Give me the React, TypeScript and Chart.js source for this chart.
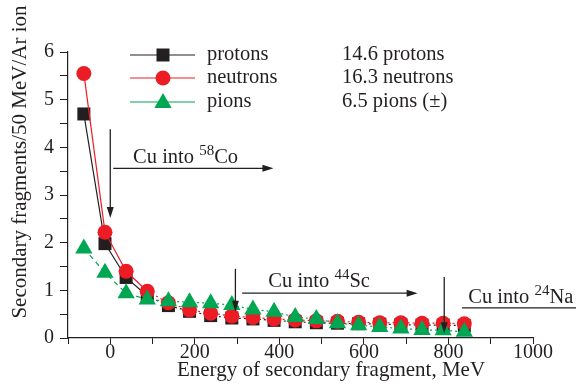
import React, { useEffect, useRef } from "react";
import { Chart, registerables } from "chart.js";

Chart.register(...registerables);

const ENERGY = [-62.5, -12.5, 37.5, 87.5, 137.5, 187.5, 237.5, 287.5, 337.5, 387.5, 437.5, 487.5, 537.5, 587.5, 637.5, 687.5, 737.5, 787.5, 837.5];
const PROTONS = [4.7, 1.98, 1.27, 0.88, 0.68, 0.56, 0.47, 0.42, 0.4, 0.37, 0.34, 0.32, 0.31, 0.3, 0.29, 0.28, 0.27, 0.27, 0.26];
const NEUTRONS = [5.55, 2.22, 1.4, 0.98, 0.74, 0.59, 0.52, 0.46, 0.43, 0.4, 0.38, 0.36, 0.35, 0.33, 0.32, 0.32, 0.31, 0.31, 0.3];
const PIONS = [1.88, 1.37, 0.94, 0.81, 0.77, 0.75, 0.73, 0.69, 0.6, 0.55, 0.44, 0.4, 0.31, 0.27, 0.23, 0.2, 0.17, 0.16, 0.13];

const SERIES_NAMES = ["protons", "neutrons", "pions"];
const SERIES_TOTALS = ["14.6 protons", "16.3 neutrons", "6.5 pions (\u00b1)"];

const X_TITLE = "Energy of secondary fragment, MeV";
const Y_TITLE = "Secondary fragments/50 MeV/Ar ion";

// annotations (data coordinates)
const V_ARROWS = [
  { x: 0, y0: 4.38, y1: 2.52 },
  { x: 296, y0: 1.45, y1: 0.55 },
  { x: 790, y0: 1.28, y1: 0.1 },
];
const H_ARROWS = [
  { y: 3.56, x0: 7, x1: 386, head: true },
  { y: 0.94, x0: 312, x1: 727, head: true },
  { y: 0.63, x0: 832, x1: 1120, head: false },
];
const LABELS = [
  { x: 54, y: 3.67, iso: "58", el: "Co" },
  { x: 374, y: 1.07, iso: "44", el: "Sc" },
  { x: 847, y: 0.73, iso: "24", el: "Na" },
];

const FONT = '"Liberation Serif", "Times New Roman", Times, serif';
const BLACK = "#231f20";
const RED = "#ec1c24";
const GREEN = "#00a651";

function drawMarker(ctx: CanvasRenderingContext2D, kind: string, x: number, y: number, color: string) {
  ctx.save();
  ctx.fillStyle = color;
  ctx.beginPath();
  if (kind === "rect") {
    ctx.rect(x - 6.5, y - 6.5, 13, 13);
  } else if (kind === "circle") {
    ctx.arc(x, y, 7.5, 0, Math.PI * 2);
  } else {
    const r = 10;
    ctx.moveTo(x, y - r);
    ctx.lineTo(x + r * 0.866, y + r * 0.5);
    ctx.lineTo(x - r * 0.866, y + r * 0.5);
    ctx.closePath();
  }
  ctx.fill();
  ctx.restore();
}

const overlay = {
  id: "overlay",
  afterDraw(chart: any) {
    const ctx: CanvasRenderingContext2D = chart.ctx;
    const xs = chart.scales.x;
    const ys = chart.scales.y;
    ctx.save();
    // legend
    const colors = [BLACK, RED, GREEN];
    const kinds = ["rect", "circle", "triangle"];
    const rowsY = [55, 78, 102];
    ctx.font = `20.5px ${FONT}`;
    ctx.textBaseline = "middle";
    for (let i = 0; i < 3; i++) {
      const y = rowsY[i];
      ctx.strokeStyle = colors[i];
      ctx.lineWidth = 1.2;
      ctx.beginPath();
      ctx.moveTo(130, y);
      ctx.lineTo(195, y);
      ctx.stroke();
      drawMarker(ctx, kinds[i], 163, y + (i === 2 ? 1 : 0), colors[i]);
      ctx.fillStyle = BLACK;
      ctx.textAlign = "left";
      ctx.fillText(SERIES_NAMES[i], 207, y);
      ctx.fillText(SERIES_TOTALS[i], 342, y);
    }
    // arrows
    ctx.strokeStyle = BLACK;
    ctx.fillStyle = BLACK;
    ctx.lineWidth = 1.3;
    for (const a of V_ARROWS) {
      const px = xs.getPixelForValue(a.x);
      const p0 = ys.getPixelForValue(a.y0);
      const p1 = ys.getPixelForValue(a.y1);
      ctx.beginPath();
      ctx.moveTo(px, p0);
      ctx.lineTo(px, p1 - 8);
      ctx.stroke();
      ctx.beginPath();
      ctx.moveTo(px, p1);
      ctx.lineTo(px - 3.5, p1 - 11);
      ctx.lineTo(px + 3.5, p1 - 11);
      ctx.closePath();
      ctx.fill();
    }
    for (const a of H_ARROWS) {
      const py = ys.getPixelForValue(a.y);
      const p0 = xs.getPixelForValue(a.x0);
      const p1 = xs.getPixelForValue(a.x1);
      ctx.beginPath();
      ctx.moveTo(p0, py);
      ctx.lineTo(a.head ? p1 - 8 : p1, py);
      ctx.stroke();
      if (a.head) {
        ctx.beginPath();
        ctx.moveTo(p1, py);
        ctx.lineTo(p1 - 11, py - 3.5);
        ctx.lineTo(p1 - 11, py + 3.5);
        ctx.closePath();
        ctx.fill();
      }
    }
    // labels
    ctx.textBaseline = "alphabetic";
    ctx.textAlign = "left";
    for (const l of LABELS) {
      let px = xs.getPixelForValue(l.x);
      const py = ys.getPixelForValue(l.y);
      ctx.font = `20.5px ${FONT}`;
      const t1 = "Cu into ";
      ctx.fillText(t1, px, py);
      px += ctx.measureText(t1).width;
      ctx.font = `15px ${FONT}`;
      ctx.fillText(l.iso, px, py - 8);
      px += ctx.measureText(l.iso).width;
      ctx.font = `20.5px ${FONT}`;
      ctx.fillText(l.el, px, py);
    }
    // axis titles
    ctx.font = `21px ${FONT}`;
    ctx.textAlign = "center";
    ctx.textBaseline = "middle";
    ctx.fillText(X_TITLE, 331, 370);
    ctx.save();
    ctx.translate(20, 162);
    ctx.rotate(-Math.PI / 2);
    ctx.fillText(Y_TITLE, 0, 0);
    ctx.restore();
    ctx.restore();
  },
};

export default function App() {
  const ref = useRef<HTMLCanvasElement>(null);
  useEffect(() => {
    let chart: any = null;
    let cancelled = false;
    const build = () => {
      if (cancelled || !ref.current) return;
      const mk = (d: number[]) => ENERGY.map((x, i) => ({ x, y: d[i] }));
      chart = new Chart(ref.current, {
        type: "line",
        data: {
          datasets: [
            {
              label: "pions",
              data: mk(PIONS),
              borderColor: GREEN,
              backgroundColor: GREEN,
              borderWidth: 1.2,
              pointStyle: "triangle",
              pointRadius: 10,
              pointBorderWidth: 0,
              order: 0,
              segment: { borderDash: (c: any) => (c.p0DataIndex < 3 ? [5, 4] : [2, 3]) },
            },
            {
              label: "neutrons",
              data: mk(NEUTRONS),
              borderColor: RED,
              backgroundColor: RED,
              borderWidth: 1.2,
              pointStyle: "circle",
              pointRadius: 7.5,
              pointBorderWidth: 0,
              order: 1,
              segment: { borderDash: (c: any) => (c.p0DataIndex < 3 ? [] : [2, 3]) },
            },
            {
              label: "protons",
              data: mk(PROTONS),
              borderColor: BLACK,
              backgroundColor: BLACK,
              borderWidth: 1.2,
              pointStyle: "rect",
              pointRadius: 9.2,
              pointBorderWidth: 0,
              order: 2,
              segment: { borderDash: (c: any) => (c.p0DataIndex < 3 ? [] : [2, 3]) },
            },
          ],
        },
        plugins: [overlay],
        options: {
          animation: false,
          responsive: false,
          maintainAspectRatio: false,
          layout: { padding: { left: 0, top: 52, right: 43, bottom: 0 } },
          plugins: { legend: { display: false }, tooltip: { enabled: false } },
          scales: {
            x: {
              type: "linear",
              min: -100,
              max: 1000,
              afterFit: (s: any) => { s.height = 51; },
              ticks: {
                stepSize: 100,
                autoSkip: false,
                maxRotation: 0,
                padding: -3,
                color: BLACK,
                font: { family: FONT, size: 20 },
                callback: (v: any) => (Number(v) % 200 === 0 ? String(v) : ""),
              },
              grid: { display: true, drawOnChartArea: false, drawTicks: true, tickLength: 6, color: BLACK },
              border: { display: true, color: BLACK, width: 1.2 },
            },
            y: {
              min: 0,
              max: 6,
              afterFit: (s: any) => { s.width = 68; },
              ticks: {
                stepSize: 0.5,
                autoSkip: false,
                padding: 6,
                color: BLACK,
                font: { family: FONT, size: 20 },
                callback: (v: any) => (Number.isInteger(Number(v)) ? String(v) : ""),
              },
              grid: { display: true, drawOnChartArea: false, drawTicks: true, tickLength: 8, color: BLACK },
              border: { display: true, color: BLACK, width: 1.2 },
            },
          },
        },
      } as any);
    };
    const fontsApi: any = (document as any).fonts;
    if (fontsApi && fontsApi.load) {
      fontsApi.load('20px "Liberation Serif"').then(build, build);
    } else {
      build();
    }
    return () => {
      cancelled = true;
      if (chart) chart.destroy();
    };
  }, []);
  return (
    <div style={{ position: "fixed", left: 0, top: 0, width: 576, height: 389, background: "#fff" }}>
      <canvas ref={ref} width={576} height={389} style={{ width: 576, height: 389 }} />
    </div>
  );
}
